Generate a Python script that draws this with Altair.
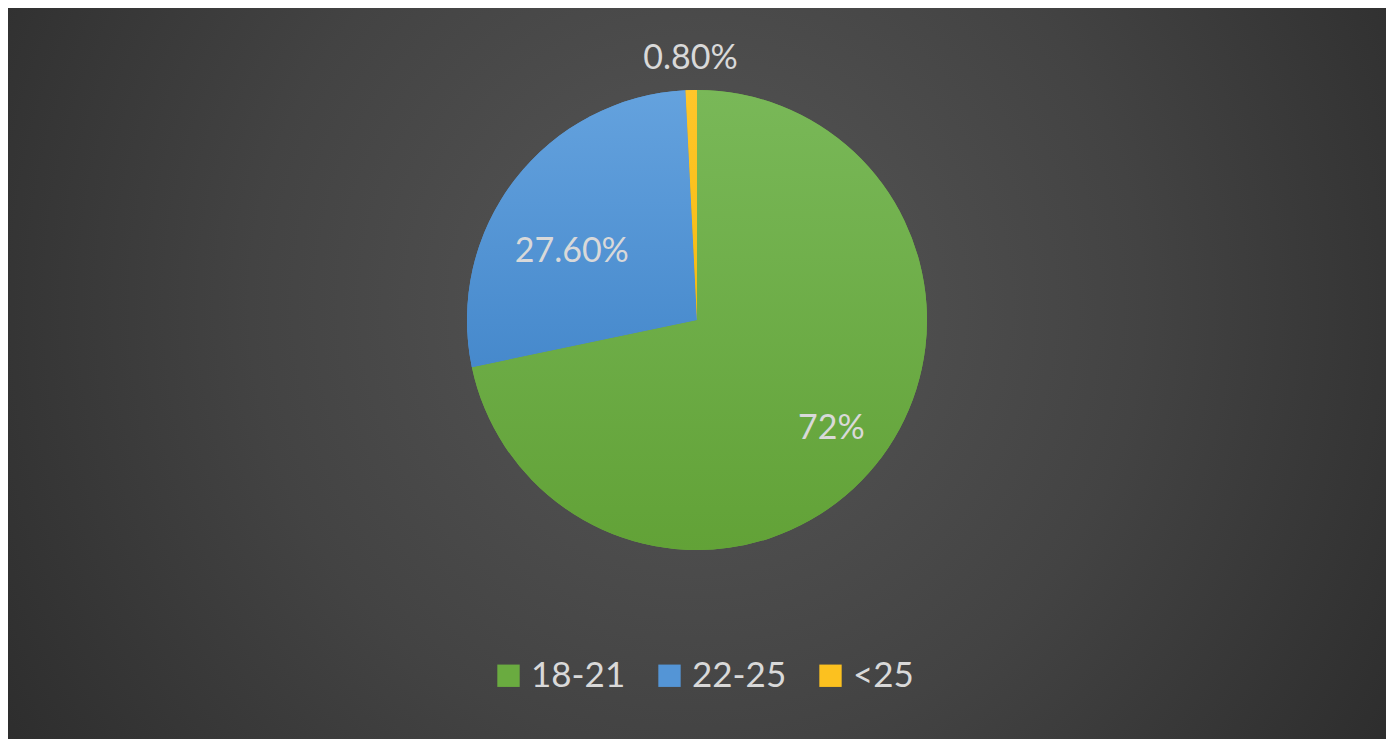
import altair as alt
import pandas as pd

categories = ["18-21", "22-25", "<25"]
values = [72.0, 27.6, 0.8]
labels = ["72%", "27.60%", "0.80%"]
colors = ["#6aab40", "#5495d6", "#fcc11f"]
grad_top = ["#79b858", "#64a2de", "#ffc62a"]
grad_bottom = ["#62a237", "#4689cc", "#f5bb10"]

df = pd.DataFrame({"category": categories, "value": values, "label": labels,
                   "order": [0, 1, 2]})

W, H = 1378, 731
CX, CY = 689, 312
R = 230

bg = alt.Chart(alt.Data(values=[{}])).mark_rect(
    fill=alt.Gradient(
        gradient="radial",
        x1=0.5, y1=0.45, r1=0.0,
        x2=0.5, y2=0.45, r2=0.72,
        stops=[alt.GradientStop(color="#575757", offset=0),
               alt.GradientStop(color="#434343", offset=0.45),
               alt.GradientStop(color="#232323", offset=1)],
    )
).encode(x=alt.value(0), x2=alt.value(W), y=alt.value(0), y2=alt.value(H))

base = alt.Chart(df).encode(
    theta=alt.Theta("value:Q", stack=True),
    order=alt.Order("order:Q"),
    x=alt.value(CX), y=alt.value(CY),
)

pie = base.mark_arc(radius=R).encode(
    color=alt.Color(
        "category:N",
        scale=alt.Scale(domain=categories, range=colors),
        sort=categories,
        legend=alt.Legend(
            title=None, orient="none", direction="horizontal",
            legendX=483, legendY=650,
            labelFont="Lato", labelFontSize=35, labelColor="#d9d9d9",
            symbolType="square", symbolSize=500, symbolStrokeWidth=0,
            columnPadding=26, labelOffset=5,
        ),
    ),
)

overlays = []
for cat, top, bot in zip(categories, grad_top, grad_bottom):
    g = alt.Gradient(
        gradient="linear", x1=0, y1=0, x2=0, y2=1,
        stops=[alt.GradientStop(color=top, offset=0),
               alt.GradientStop(color=bot, offset=1)],
    )
    overlays.append(
        base.mark_arc(radius=R).encode(
            fill=alt.condition(alt.datum.category == cat, alt.value(g), alt.value("transparent"))
        )
    )

txt_style = dict(font="Lato", fontSize=34, color="#d9d9d9")

t1 = base.mark_text(radius=173, **txt_style).encode(
    text="label:N",
    opacity=alt.condition(alt.datum.category == "18-21", alt.value(1), alt.value(0)),
)
t2 = base.mark_text(radius=143, dx=-12, dy=19, **txt_style).encode(
    text="label:N",
    opacity=alt.condition(alt.datum.category == "22-25", alt.value(1), alt.value(0)),
)
t3 = base.mark_text(radius=262, dy=1, **txt_style).encode(
    text="label:N",
    opacity=alt.condition(alt.datum.category == "<25", alt.value(1), alt.value(0)),
)

chart = alt.layer(bg, pie, *overlays, t1, t2, t3).properties(
    width=W, height=H, padding=0, background="#2b2b2b",
    autosize=alt.AutoSizeParams(type="none"),
).configure_view(stroke=None)

chart.save("out.html", embed_options={"renderer": "svg", "actions": False})
